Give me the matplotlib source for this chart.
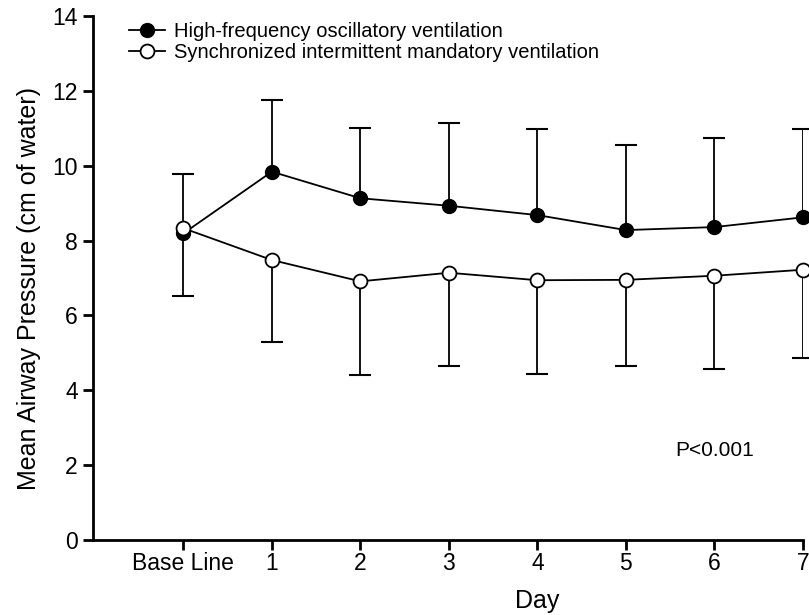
import numpy as np
import matplotlib.pyplot as plt

plt.rcParams['font.family'] = ['Liberation Sans', 'DejaVu Sans']

# Данные
day_labels = ['Base Line', '1', '2', '3', '4', '5', '6', '7']
hfov_mean = [8.19, 9.84, 9.13, 8.93, 8.68, 8.28, 8.36, 8.62]
hfov_upper = [9.78, 11.75, 11.00, 11.13, 10.98, 10.56, 10.73, 10.98]
simv_mean = [8.33, 7.48, 6.91, 7.14, 6.94, 6.95, 7.06, 7.22]
simv_lower = [6.53, 5.29, 4.41, 4.65, 4.44, 4.65, 4.57, 4.85]

x = np.arange(len(day_labels))

fig = plt.figure(figsize=(8.09, 6.15), dpi=100)
ax = fig.add_axes([0.115, 0.122, 0.8775, 0.852])

# односторонние усы: вверх у ВЧО, вниз у SIMV
ax.vlines(x, hfov_mean, hfov_upper, color='black', lw=1.3, zorder=2)
ax.plot(x, hfov_upper, ls='none', marker='_', ms=16, mew=1.5, color='black', clip_on=False)
ax.vlines(x, simv_lower, simv_mean, color='black', lw=1.3, zorder=2)
ax.plot(x, simv_lower, ls='none', marker='_', ms=16, mew=1.5, color='black', clip_on=False)

ax.plot(x, hfov_mean, '-o', color='black', mfc='black', mec='black', ms=10, lw=1.3,
        clip_on=False, zorder=3, label='High-frequency oscillatory ventilation')
ax.plot(x, simv_mean, '-o', color='black', mfc='white', mec='black', mew=1.3, ms=10, lw=1.3,
        clip_on=False, zorder=4, label='Synchronized intermittent mandatory ventilation')

ax.set_xlim(-1.02, 7)
ax.set_ylim(0, 14)
ax.set_xticks(x)
ax.set_xticklabels(day_labels)
ax.set_yticks(np.arange(0, 15, 2))
ax.tick_params(axis='both', direction='out', length=7, width=2, labelsize=16.5)
ax.tick_params(axis='x', pad=2)
ax.tick_params(axis='y', pad=4)
for s in ['top', 'right']:
    ax.spines[s].set_visible(False)
for s in ['left', 'bottom']:
    ax.spines[s].set_linewidth(2)

ax.set_ylabel('Mean Airway Pressure (cm of water)', fontsize=18, labelpad=8)
ax.yaxis.label.set_y(0.48)
ax.set_xlabel('Day', fontsize=18, labelpad=10)
ax.xaxis.label.set_x(0.625)

ax.text(6, 2.4, 'P<0.001', ha='center', va='center', fontsize=15)

ax.legend(loc='upper left', bbox_to_anchor=(0.039, 1.004), frameon=False,
          fontsize=14.5, handlelength=1.8, handletextpad=0.45, labelspacing=0.12,
          borderaxespad=0)

plt.savefig('out.png', dpi=100)
